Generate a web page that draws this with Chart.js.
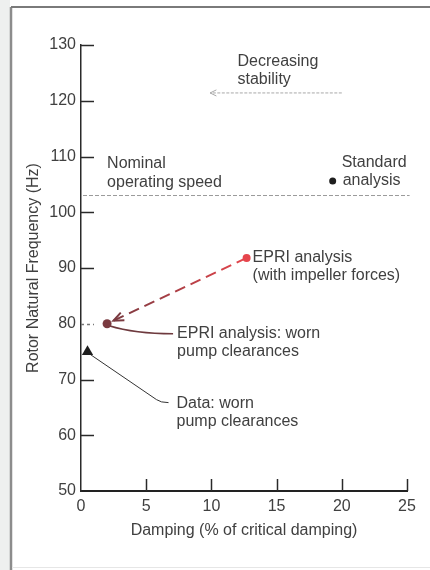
<!DOCTYPE html>
<html>
<head>
<meta charset="utf-8">
<script src="https://cdn.jsdelivr.net/npm/chart.js@4.4.1/dist/chart.umd.min.js"></script>
<style>
  html, body { margin: 0; padding: 0; background: #fff; }
  #wrap { width: 430px; height: 570px; }
</style>
</head>
<body>
<div id="wrap"><canvas id="rotorChart" width="430" height="570"></canvas></div>
<script>
// Rotor natural frequency vs. damping
var seriesNames = ['Standard analysis', 'EPRI analysis (with impeller forces)', 'EPRI analysis: worn pump clearances', 'Data: worn pump clearances'];
var dampingPct = [19.3, 12.7, 2.0, 0.5];
var naturalHz = [105.6, 91.8, 80, 75];
var nominalSpeedHz = 103;
var stabilityArrow = [20, 9.9, 121.4]; // from x, to x, at y
var xTickValues = [0, 5, 10, 15, 20, 25];
var yTickValues = [50, 60, 70, 80, 90, 100, 110, 120, 130];

var ink = '#404040';
var fontFamily = '"Liberation Sans", Arial, Helvetica, sans-serif';

var pointColors = ['#1e1e1e', '#e6454c', '#7a3a40', '#1e1e1e'];
var pointStyles = ['circle', 'circle', 'circle', 'triangle'];
var pointSizes = [3.5, 4, 4.5, 6.5];

var datasets = seriesNames.map(function (name, i) {
  return {
    label: name,
    data: [{ x: dampingPct[i], y: naturalHz[i] }],
    backgroundColor: pointColors[i],
    borderColor: pointColors[i],
    borderWidth: 0,
    pointStyle: pointStyles[i],
    pointRadius: pointSizes[i]
  };
});

function arrowHead(ctx, x, y, fromX, fromY, len, spread) {
  var a = Math.atan2(y - fromY, x - fromX);
  ctx.beginPath();
  ctx.moveTo(x - len * Math.cos(a - spread), y - len * Math.sin(a - spread));
  ctx.lineTo(x, y);
  ctx.lineTo(x - len * Math.cos(a + spread), y - len * Math.sin(a + spread));
  ctx.stroke();
}

function text(ctx, str, x, y) {
  ctx.fillText(str, x, y);
}

// page frame
var framePlugin = {
  id: 'frame',
  beforeDraw: function (chart) {
    var ctx = chart.ctx;
    ctx.save();
    ctx.fillStyle = '#eef0ef';
    ctx.fillRect(0, 0, 10, 570);
    ctx.strokeStyle = '#8c8c8c';
    ctx.lineWidth = 2.5;
    ctx.beginPath();
    ctx.moveTo(11, 7);
    ctx.lineTo(11, 570);
    ctx.stroke();
    ctx.strokeStyle = '#7a7a7a';
    ctx.lineWidth = 2;
    ctx.beginPath();
    ctx.moveTo(11, 7);
    ctx.lineTo(430, 7);
    ctx.stroke();
    ctx.strokeStyle = '#e6e6e6';
    ctx.lineWidth = 1;
    ctx.beginPath();
    ctx.moveTo(12, 567.5);
    ctx.lineTo(430, 567.5);
    ctx.stroke();
    ctx.restore();
  }
};

// inward tick marks and annotations
var notesPlugin = {
  id: 'notes',
  beforeDatasetsDraw: function (chart) {
    var ctx = chart.ctx;
    var xs = chart.scales.x, ys = chart.scales.y;
    var x0 = xs.getPixelForValue(0), y0 = ys.getPixelForValue(50);
    ctx.save();
    ctx.strokeStyle = '#2a2a2a';
    ctx.lineWidth = 1.5;
    yTickValues.forEach(function (v) {
      if (v === 50) return;
      var py = Math.round(ys.getPixelForValue(v)) + 0.5;
      ctx.setLineDash(v === 80 ? [3, 3] : []);
      ctx.strokeStyle = v === 80 ? '#777' : '#2a2a2a';
      ctx.beginPath();
      ctx.moveTo(x0, py);
      ctx.lineTo(x0 + 13, py);
      ctx.stroke();
    });
    ctx.setLineDash([]);
    ctx.strokeStyle = '#2a2a2a';
    xTickValues.forEach(function (v) {
      if (v === 0) return;
      var px = Math.round(xs.getPixelForValue(v)) + 0.5;
      ctx.beginPath();
      ctx.moveTo(px, y0);
      ctx.lineTo(px, y0 - 12);
      ctx.stroke();
    });

    // nominal operating speed line
    var ny = ys.getPixelForValue(nominalSpeedHz);
    ctx.strokeStyle = '#9a9a9a';
    ctx.lineWidth = 1;
    ctx.setLineDash([4, 2]);
    ctx.beginPath();
    ctx.moveTo(x0 + 2, ny);
    ctx.lineTo(xs.getPixelForValue(25.2), ny);
    ctx.stroke();

    // decreasing stability arrow
    var ay = ys.getPixelForValue(stabilityArrow[2]);
    var ax1 = xs.getPixelForValue(stabilityArrow[0]);
    var ax2 = xs.getPixelForValue(stabilityArrow[1]);
    ctx.strokeStyle = '#a8a8a8';
    ctx.setLineDash([3, 1.5]);
    ctx.beginPath();
    ctx.moveTo(ax1, ay);
    ctx.lineTo(ax2, ay);
    ctx.stroke();
    ctx.setLineDash([]);
    arrowHead(ctx, ax2, ay, ax1, ay, 7, 0.45);

    // dashed arrow from impeller-force result to worn-clearance result
    var pRed = { x: xs.getPixelForValue(dampingPct[1]), y: ys.getPixelForValue(naturalHz[1]) };
    var pWorn = { x: xs.getPixelForValue(dampingPct[2]), y: ys.getPixelForValue(naturalHz[2]) };
    var ang = Math.atan2(pWorn.y - pRed.y, pWorn.x - pRed.x);
    var tip = { x: pWorn.x - 7 * Math.cos(ang), y: pWorn.y - 7 * Math.sin(ang) };
    var grad = ctx.createLinearGradient(pRed.x, pRed.y, tip.x, tip.y);
    grad.addColorStop(0, '#e6454c');
    grad.addColorStop(1, '#7a3a40');
    ctx.strokeStyle = grad;
    ctx.lineWidth = 2;
    ctx.setLineDash([11, 6]);
    ctx.beginPath();
    ctx.moveTo(pRed.x, pRed.y);
    ctx.lineTo(tip.x, tip.y);
    ctx.stroke();
    ctx.setLineDash([]);
    ctx.strokeStyle = '#7a3a40';
    arrowHead(ctx, tip.x, tip.y, pRed.x, pRed.y, 11, 0.4);

    // leader from worn-clearance analysis point
    ctx.strokeStyle = '#6e3a3e';
    ctx.lineWidth = 1.5;
    ctx.beginPath();
    ctx.moveTo(pWorn.x + 2, pWorn.y + 2);
    ctx.quadraticCurveTo(pWorn.x + 28, pWorn.y + 10, pWorn.x + 66, pWorn.y + 10);
    ctx.stroke();

    // leader from measured data point
    var pData = { x: xs.getPixelForValue(dampingPct[3]), y: ys.getPixelForValue(naturalHz[3]) };
    ctx.strokeStyle = '#333';
    ctx.lineWidth = 1;
    ctx.beginPath();
    ctx.moveTo(pData.x + 3, pData.y + 3);
    ctx.lineTo(pData.x + 69, pData.y + 48);
    ctx.quadraticCurveTo(pData.x + 73, pData.y + 51, pData.x + 81, pData.y + 51);
    ctx.stroke();
    ctx.restore();
  },
  afterDatasetsDraw: function (chart) {
    var ctx = chart.ctx;
    var xs = chart.scales.x, ys = chart.scales.y;
    ctx.save();
    ctx.fillStyle = ink;
    ctx.font = '16px ' + fontFamily;
    ctx.textAlign = 'left';
    ctx.textBaseline = 'middle';

    var ny = ys.getPixelForValue(nominalSpeedHz);
    var nx = xs.getPixelForValue(2);
    text(ctx, 'Nominal', nx, ny - 32);
    text(ctx, 'operating speed', nx, ny - 13);

    var ay = ys.getPixelForValue(stabilityArrow[2]);
    var tx = xs.getPixelForValue(12);
    text(ctx, 'Decreasing', tx, ay - 31);
    text(ctx, 'stability', tx, ay - 13);

    var p = function (i) { return { x: xs.getPixelForValue(dampingPct[i]), y: ys.getPixelForValue(naturalHz[i]) }; };
    var s = p(0);
    text(ctx, 'Standard', s.x + 9, s.y - 18);
    text(ctx, 'analysis', s.x + 10, s.y);

    var r = p(1);
    text(ctx, 'EPRI analysis', r.x + 6, r.y);
    text(ctx, '(with impeller forces)', r.x + 6, r.y + 18);

    var w = p(2);
    text(ctx, 'EPRI analysis: worn', w.x + 70, w.y + 10);
    text(ctx, 'pump clearances', w.x + 70, w.y + 28);

    var d = p(3);
    text(ctx, 'Data: worn', d.x + 89, d.y + 52);
    text(ctx, 'pump clearances', d.x + 89, d.y + 70);
    ctx.restore();
  }
};

var ctx = document.getElementById('rotorChart').getContext('2d');
var rotorChart = new Chart(ctx, {
  type: 'scatter',
  data: { datasets: datasets },
  options: {
    responsive: false,
    animation: false,
    layout: { padding: { left: 0, right: 23, top: 45, bottom: 0 } },
    plugins: { legend: { display: false }, tooltip: { enabled: false } },
    scales: {
      x: {
        type: 'linear',
        min: 0,
        max: 25,
        afterFit: function (scale) { scale.height = 79; },
        afterBuildTicks: function (scale) { scale.ticks = xTickValues.map(function (v) { return { value: v }; }); },
        grid: { display: true, drawOnChartArea: false, drawTicks: false },
        border: { display: true, color: '#222', width: 2 },
        ticks: { color: ink, padding: 6, font: { family: fontFamily, size: 16 } },
        title: {
          display: true,
          text: 'Damping (% of critical damping)',
          color: ink,
          font: { family: fontFamily, size: 16 },
          padding: { top: 0, bottom: 30 }
        }
      },
      y: {
        type: 'linear',
        min: 50,
        max: 130,
        afterFit: function (scale) { scale.width = 81; },
        afterBuildTicks: function (scale) { scale.ticks = yTickValues.map(function (v) { return { value: v }; }); },
        grid: { display: true, drawOnChartArea: false, drawTicks: false },
        border: { display: true, color: '#2a2a2a', width: 1.5 },
        ticks: { color: ink, padding: 5, font: { family: fontFamily, size: 16 } },
        title: {
          display: true,
          text: 'Rotor Natural Frequency (Hz)',
          color: ink,
          font: { family: fontFamily, size: 16 },
          padding: { top: 24, bottom: 0 }
        }
      }
    }
  },
  plugins: [framePlugin, notesPlugin]
});
</script>
</body>
</html>
